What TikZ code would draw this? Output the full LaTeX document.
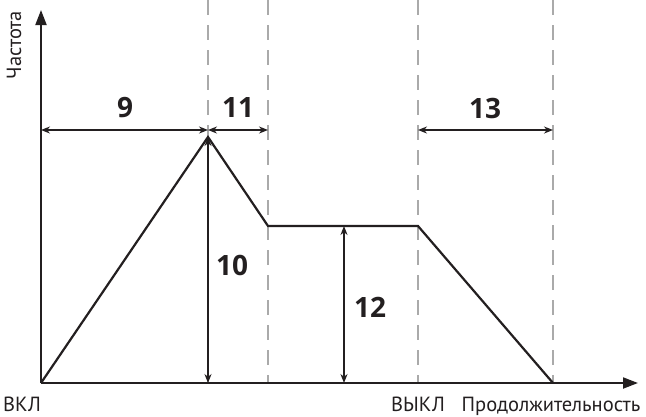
\documentclass[tikz,border=0pt]{standalone}
\usepackage{fontspec}
\setmainfont{PT Sans}
\newfontfamily\digitfont{Open Sans}
\usepackage{xcolor}
\definecolor{axisblack}{RGB}{35,31,32}
\definecolor{guidegray}{RGB}{170,170,170}
\usetikzlibrary{arrows.meta,positioning,calc}

\tikzset{
  axis/.style={axisblack,line width=2pt,-{Triangle[length=15pt,width=11pt]}},
  curve/.style={axisblack,line width=2.2pt,line join=miter},
  guide/.style={guidegray,line width=1.5pt,dash pattern=on 15pt off 10pt},
  dim/.style={axisblack,line width=1.5pt,{Stealth[length=9pt,width=7pt]}-{Stealth[length=9pt,width=7pt]}},
  dimlabel/.style={font=\digitfont\fontsize{28}{30}\selectfont\bfseries,text=axisblack},
  axislabel/.style={font=\fontsize{20.5}{22}\selectfont,text=axisblack,inner sep=1pt}
}

\begin{document}
\begin{tikzpicture}[x=1pt,y=-1pt]
  \useasboundingbox (0,0) rectangle (646,416);
  % Key points of the curve
  \coordinate (O) at (41,383);
  \coordinate (ytop) at (41,10);
  \coordinate (xend) at (638,383);
  \coordinate (peak) at (208,137);
  \coordinate (hold) at (268,226);
  \coordinate (off) at (418,226);
  \coordinate (stop) at (553,383);
  % Guide lines
  \foreach \gx/\gname in {208/g1,268/g2,418/g3,553/g4}{
    \coordinate (\gname top) at (\gx,0);
    \coordinate (\gname bot) at (\gx,383);
    \draw[guide] (\gname top) -- (\gname bot);
  }
  % Axes
  \draw[axis] (O) -- (ytop);
  \draw[axis] (O) -- (xend);
  % Curve
  \draw[curve] (O) -- (peak) -- (hold) -- (off) -- (stop);
  % Horizontal dimensions
  \coordinate (d9a) at (41,130);
  \coordinate (d9b) at (208,130);
  \coordinate (d11b) at (268,130);
  \coordinate (d13a) at (418,130);
  \coordinate (d13b) at (553,130);
  \draw[dim] (d9a) -- (d9b);
  \draw[dim] (d9b) -- (d11b);
  \draw[dim] (d13a) -- (d13b);
  \node[dimlabel] (n9) at (125,108) {9};
  \node[dimlabel] (n11) at (238,108) {11};
  \node[dimlabel] (n13) at (485,108) {13};
  % Vertical dimensions
  \coordinate (d10a) at (208,383);
  \coordinate (d10b) at (208,137);
  \coordinate (d12a) at (344,383);
  \coordinate (d12b) at (344,226);
  \draw[dim] (d10a) -- (d10b);
  \draw[dim] (d12a) -- (d12b);
  \node[dimlabel] (n10) at (232,265) {10};
  \node[dimlabel] (n12) at (370,307) {12};
  % Axis labels
  \node[axislabel,rotate=90] (freq) at (14,45) {Частота};
  \node[axislabel,anchor=base] (on) at (22,411) {ВКЛ};
  \node[axislabel,anchor=base] (offl) at (418,411) {ВЫКЛ};
  \node[axislabel,anchor=base] (dur) at (551,411) {Продолжительность};
\end{tikzpicture}
\end{document}
